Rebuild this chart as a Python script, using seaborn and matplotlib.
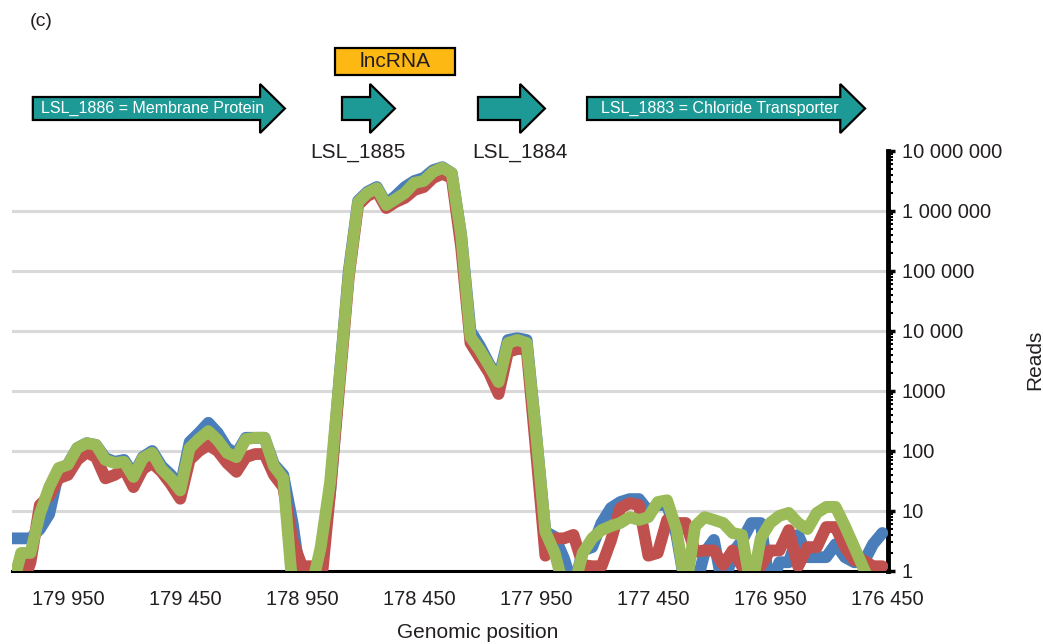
import numpy as np
import pandas as pd
import matplotlib.pyplot as plt
import seaborn as sns
from matplotlib.patches import Polygon, Rectangle
from matplotlib.ticker import FixedLocator, LogLocator, FuncFormatter, NullFormatter
from matplotlib.transforms import blended_transform_factory

# genomic positions (bp), read every 40 bp along the region
positions = list(range(180190, 176430, -40))

# read depth per sample (0.5 = no reads, drawn below the axis floor)
reads_blue = [
    3.5, 3.5, 3.5, 5, 8.9, 45, 60, 112, 135, 126,
    76, 66, 71, 40, 79, 100, 56, 40, 25, 141,
    200, 295, 200, 112, 89, 166, 166, 166, 60, 40,
    6.3, 0.5, 0.5, 1.26, 20, 1585, 100000, 1480000, 2090000, 2510000,
    1320000, 1780000, 2510000, 3160000, 3550000, 4790000, 5370000, 4270000, 398000, 10000,
    5620, 2820, 1585, 7080, 7590, 7080, 200, 4.5, 3.7, 1.6,
    0.5, 2.2, 2.5, 6.3, 11.2, 14.1, 15.8, 15.8, 10, 12.6,
    12.6, 4, 0.5, 0.5, 2, 3.3, 0.5, 2, 3.2, 6.3,
    6.3, 0.5, 1.4, 1.4, 4, 1.7, 1.7, 1.7, 2.8, 1.7,
    1.4, 1.4, 2.8, 4.3,
]
reads_red = [
    0.5, 0.5, 1.4, 12.6, 17.8, 35, 40, 71, 95, 79,
    35, 40, 50, 25, 50, 63, 45, 28, 16, 71,
    100, 126, 100, 63, 45, 79, 89, 89, 40, 25,
    3.2, 1.2, 1.2, 0.5, 20, 1259, 79400, 1260000, 1780000, 2140000,
    1120000, 1410000, 1660000, 2240000, 2510000, 3550000, 4170000, 3550000, 251000, 6310,
    3550, 2000, 891, 4470, 5010, 5010, 100, 1.8, 3.5, 3.5,
    4, 1.26, 1.2, 1.2, 3.2, 11.2, 13.5, 12.6, 1.8, 2,
    7.1, 6.3, 6.3, 2.1, 2.2, 2.2, 1.26, 2.2, 1.2, 1.2,
    1.2, 2.2, 2.2, 4.8, 1.2, 2.5, 2.5, 5.4, 5.4, 2.5,
    1.5, 1.5, 1.2, 1.2,
]
reads_green = [
    0.5, 2, 2, 8.9, 25, 52, 59, 112, 135, 126,
    71, 63, 66, 37, 76, 93, 50, 35, 22, 112,
    158, 214, 151, 93, 79, 158, 166, 166, 56, 35,
    0.5, 0.5, 0.5, 2.5, 30, 1585, 89000, 1410000, 2000000, 2400000,
    1260000, 1580000, 2000000, 2950000, 3160000, 4470000, 5250000, 4270000, 398000, 7940,
    4790, 2630, 1410, 6310, 7080, 6310, 200, 4.5, 2, 0.5,
    0.5, 2, 3.5, 4.8, 5.6, 6.3, 7.9, 7.1, 7.9, 14.1,
    15.1, 5, 0.5, 5.6, 7.9, 7.1, 6.3, 4.3, 4, 0.5,
    3.5, 6.3, 8.3, 9.3, 6.3, 5, 9.3, 11.7, 11.7, 5.6,
    2.5, 1.1, 0.5, 0.5,
]
samples = ["Sample 1", "Sample 2", "Sample 3"]
colors = ["#4a7ebb", "#c0504d", "#9bbb59"]

# gene annotation: label, start, tip (bp)
genes = [
    ("LSL_1886 = Membrane Protein", 180100, 179023),
    ("", 178779, 178553),
    ("", 178198, 177912),
    ("LSL_1883 = Chloride Transporter", 177732, 176544),
]
gene_names = [("LSL_1885", 178712), ("LSL_1884", 178018)]
lncrna = (178809, 178296)

x_ticks = [179950, 179450, 178950, 178450, 177950, 177450, 176950, 176450]

df = pd.DataFrame({
    "position": positions * 3,
    "reads": reads_blue + reads_red + reads_green,
    "sample": np.repeat(samples, len(positions)),
})

sns.set_style("white")
plt.rcParams["font.family"] = ["Liberation Sans", "DejaVu Sans"]
txt = "#231f20"

fig = plt.figure(figsize=(10.43, 6.44), dpi=100)
W, H = 1043, 644
ax = fig.add_axes([12 / W, 1 - 571 / H, 876 / W, 420 / H])

sns.lineplot(data=df, x="position", y="reads", hue="sample", hue_order=samples,
             palette=colors, linewidth=8.5, legend=False, errorbar=None,
             estimator=None, sort=False, ax=ax,
             solid_joinstyle="round", solid_capstyle="round", zorder=3)

ax.set_yscale("log", nonpositive="clip")
ax.set_ylim(1, 1e7)
ax.set_xlim(180189, 176446)


def sep(v, pos=None):
    v = int(round(v))
    if v >= 10000:
        return f"{v:,}".replace(",", " ")
    return str(v)


ax.xaxis.set_major_locator(FixedLocator(x_ticks))
ax.xaxis.set_major_formatter(FuncFormatter(sep))
ax.yaxis.set_major_locator(FixedLocator([10 ** k for k in range(8)]))
ax.yaxis.set_major_formatter(FuncFormatter(sep))
ax.yaxis.set_minor_locator(LogLocator(base=10, subs=np.arange(2, 10)))
ax.yaxis.set_minor_formatter(NullFormatter())
ax.yaxis.tick_right()

ax.grid(False)
ax.yaxis.grid(True, which="major", color="#d9d9d9", linewidth=2.2, zorder=0)
ax.set_axisbelow(True)

for side in ["top", "left"]:
    ax.spines[side].set_visible(False)
ax.spines["bottom"].set_linewidth(2.2)
ax.spines["bottom"].set_color("black")
ax.spines["right"].set_linewidth(3.5)
ax.spines["right"].set_color("black")

ax.tick_params(axis="x", which="major", direction="out", length=6, width=2.5,
               color="black", labelsize=14.5, pad=8, labelcolor=txt)
ax.tick_params(axis="y", which="major", direction="out", length=5, width=2.5,
               color="black", labelsize=14.5, pad=5, labelcolor=txt)
ax.tick_params(axis="y", which="minor", direction="out", length=3.5, width=1.5,
               color="black")
ax.set_xlabel("")
ax.set_ylabel("")

# no gridline along the top edge
fig.canvas.draw()
ax.yaxis.get_gridlines()[-1].set_visible(False)

fig.text(478 / W, 1 - 633 / H, "Genomic position", ha="center", va="center",
         fontsize=15, color=txt)
fig.text(1035 / W, 1 - 360 / H, "Reads", ha="center", va="center",
         rotation=90, fontsize=15, color=txt)
fig.text(30 / W, 1 - 22 / H, "(c)", ha="left", va="center", fontsize=14,
         color=txt)

# gene arrows above the plot: x in bp, y in figure fraction
tr = blended_transform_factory(ax.transData, fig.transFigure)
body_top, body_bot = 1 - 97 / H, 1 - 120 / H
head_top, head_bot = 1 - 84 / H, 1 - 133 / H
mid = (body_top + body_bot) / 2
head_len = 106
teal = "#1e9a96"
for label, start, tip in genes:
    hs = tip + head_len
    pts = [(start, body_bot), (start, body_top), (hs, body_top), (hs, head_top),
           (tip, mid), (hs, head_bot), (hs, body_bot)]
    ax.add_patch(Polygon(pts, closed=True, facecolor=teal, edgecolor="black",
                         linewidth=1.6, transform=tr, clip_on=False, zorder=5))
    if label:
        ax.text((start + tip) / 2 + 28, mid, label, transform=tr, ha="center",
                va="center", color="white", fontsize=11.5, zorder=6,
                clip_on=False)

for name, xc in gene_names:
    ax.text(xc, 1 - 152 / H, name, transform=tr, ha="center", va="center",
            fontsize=15, color=txt, clip_on=False)

l_top, l_bot = 1 - 48 / H, 1 - 75 / H
ax.add_patch(Rectangle((lncrna[0], l_bot), lncrna[1] - lncrna[0], l_top - l_bot,
                       facecolor="#fdb813", edgecolor="black", linewidth=1.6,
                       transform=tr, clip_on=False, zorder=5))
ax.text((lncrna[0] + lncrna[1]) / 2, (l_top + l_bot) / 2, "lncRNA", transform=tr,
        ha="center", va="center", fontsize=15, color=txt, clip_on=False,
        zorder=6)

fig.savefig("out.png", dpi=100)
